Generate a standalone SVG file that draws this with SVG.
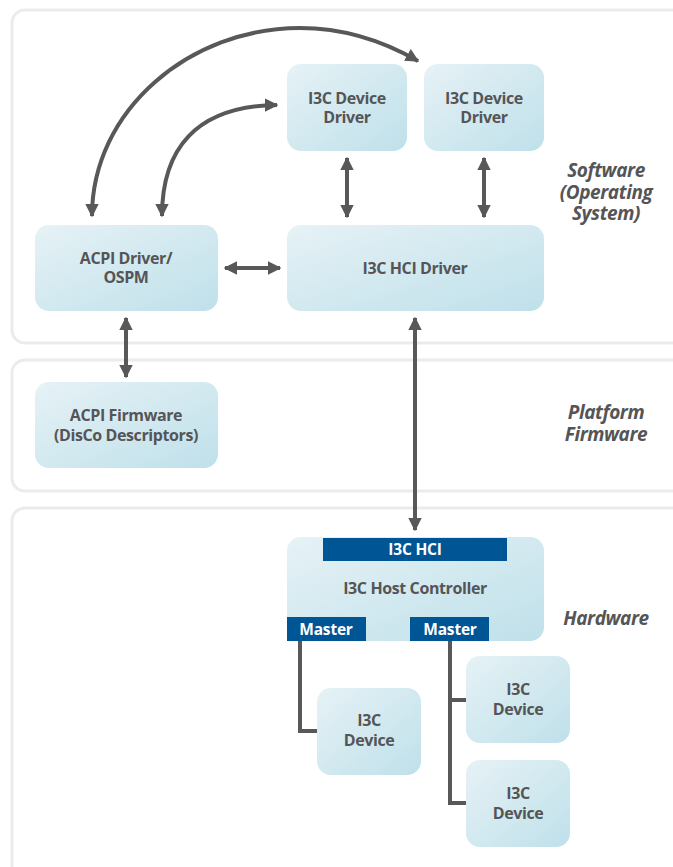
<svg xmlns="http://www.w3.org/2000/svg" width="673" height="867" viewBox="0 0 673 867">
<defs>
<linearGradient id="g" x1="0" y1="0" x2="1" y2="1">
<stop offset="0" stop-color="#e6f2f6"/>
<stop offset="1" stop-color="#bfe0ea"/>
</linearGradient>
<marker id="ah" viewBox="0 0 10 10" refX="9" refY="5" markerWidth="3.4" markerHeight="3.4" orient="auto-start-reverse" markerUnits="strokeWidth">
<path d="M0,0 L10,5 L0,10 Z" fill="#58585a"/>
</marker>
<style>
.panel{fill:#fff;stroke:#ebebeb;stroke-width:3}
.node{fill:url(#g)}
.t{font-family:"Open Sans","Noto Sans",sans-serif;font-weight:700;font-size:16px;fill:#555557;text-anchor:middle;letter-spacing:-0.4px}
.w{font-family:"Open Sans","Noto Sans",sans-serif;font-weight:700;font-size:15.5px;fill:#fff;text-anchor:middle;letter-spacing:-0.2px}
.sec{font-family:"Open Sans","Noto Sans",sans-serif;font-weight:700;font-style:italic;font-size:19px;fill:#555557;text-anchor:middle;letter-spacing:-0.4px}
.bar{fill:#005595}
.c{fill:none;stroke:#58585a;stroke-width:4}
.a{fill:none;stroke:#58585a;stroke-width:4;marker-start:url(#ah);marker-end:url(#ah)}
</style>
</defs>
<g id="panels">
<rect class="panel" x="12" y="10" width="680" height="333" rx="13"/>
<rect class="panel" x="12" y="360" width="680" height="131" rx="13"/>
<rect class="panel" x="12" y="508" width="680" height="380" rx="13"/>
<text class="sec" x="606" y="177">Software</text>
<text class="sec" x="606" y="199">(Operating</text>
<text class="sec" x="606" y="220">System)</text>
<text class="sec" x="606" y="419">Platform</text>
<text class="sec" x="606" y="441">Firmware</text>
<text class="sec" x="606" y="625">Hardware</text>
</g>
<g id="connectors">
<path class="a" d="M92,216 C92,110 190,28 300,28 C345,28 385,42 418,61"/>
<path class="a" d="M162,216 C162,150 195,106 277,105"/>
<path class="a" d="M347,158 L347,217"/>
<path class="a" d="M484,158 L484,217"/>
<path class="a" d="M225,268 L280,268"/>
<path class="a" d="M126,318 L126,377"/>
<path class="a" d="M415,318 L415,530"/>
<path class="c" d="M300,641 L300,731 L318,731"/>
<path class="c" d="M450,641 L450,803 L467,803 M448,700 L467,700"/>
</g>
<g id="dd1"><rect class="node" x="287" y="64" width="120" height="87" rx="14"/><text class="t" x="347" y="104">I3C Device</text><text class="t" x="347" y="123">Driver</text></g>
<g id="dd2"><rect class="node" x="424" y="64" width="120" height="87" rx="14"/><text class="t" x="484" y="104">I3C Device</text><text class="t" x="484" y="123">Driver</text></g>
<g id="acpi"><rect class="node" x="35" y="225" width="183" height="86" rx="14"/><text class="t" x="126" y="264">ACPI Driver/</text><text class="t" x="126" y="283">OSPM</text></g>
<g id="hcidrv"><rect class="node" x="287" y="225" width="257" height="86" rx="14"/><text class="t" x="415" y="274">I3C HCI Driver</text></g>
<g id="acpifw"><rect class="node" x="35" y="382" width="183" height="86" rx="14"/><text class="t" x="126" y="421">ACPI Firmware</text><text class="t" x="126" y="441">(DisCo Descriptors)</text></g>
<g id="hc">
<rect class="node" x="287" y="537" width="257" height="104" rx="14"/>
<rect class="bar" x="323" y="538" width="184" height="23"/>
<text class="w" x="415" y="555">I3C HCI</text>
<text class="t" x="415" y="594">I3C Host Controller</text>
<rect class="bar" x="287" y="617" width="79" height="24"/>
<text class="w" x="326" y="635">Master</text>
<rect class="bar" x="410" y="617" width="79" height="24"/>
<text class="w" x="450" y="635">Master</text>
</g>
<g id="dev1"><rect class="node" x="317" y="688" width="104" height="87" rx="14"/><text class="t" x="369" y="726">I3C</text><text class="t" x="369" y="746">Device</text></g>
<g id="dev2"><rect class="node" x="466" y="656" width="104" height="87" rx="14"/><text class="t" x="518" y="695">I3C</text><text class="t" x="518" y="715">Device</text></g>
<g id="dev3"><rect class="node" x="466" y="760" width="104" height="87" rx="14"/><text class="t" x="518" y="799">I3C</text><text class="t" x="518" y="819">Device</text></g>
</svg>
